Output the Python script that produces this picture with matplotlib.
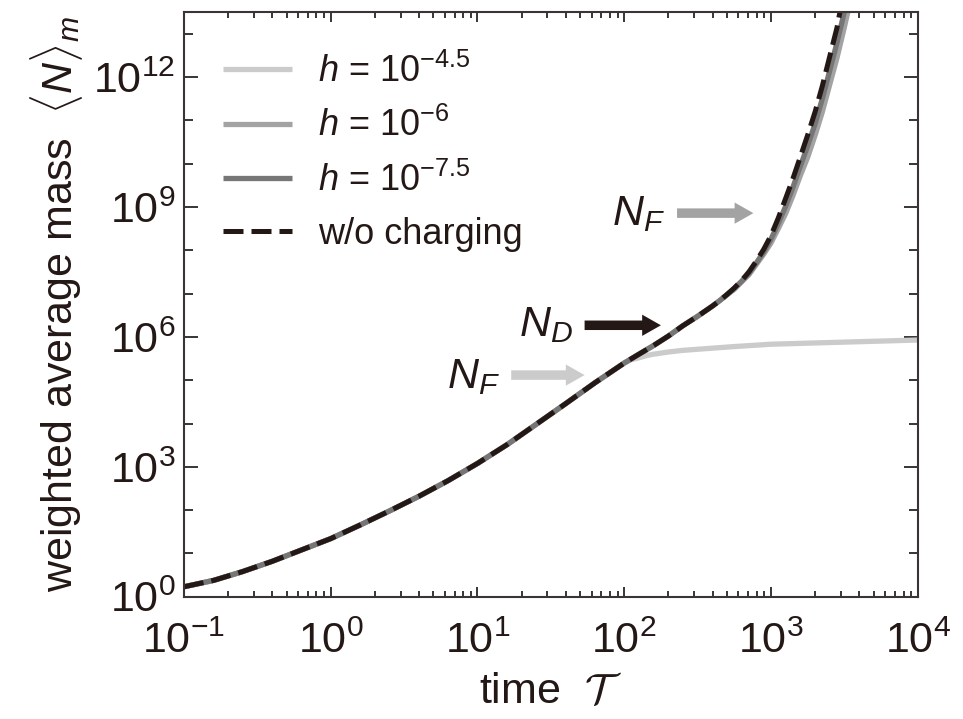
import matplotlib
matplotlib.use("Agg")
import matplotlib.pyplot as plt
from matplotlib.ticker import LogLocator, FixedLocator, NullFormatter, LogFormatterMathtext

family = "Liberation Sans"
plt.rcParams["font.family"] = [family, "DejaVu Sans"]
plt.rcParams["mathtext.fontset"] = "custom"
plt.rcParams["mathtext.rm"] = family
plt.rcParams["mathtext.it"] = family + ":italic"
plt.rcParams["mathtext.cal"] = "cmsy10"

# ---- data ----
# early part, identical for every run
t_common = [0.1, 0.16, 0.25, 0.4, 0.63, 1, 1.6, 2.5, 4, 6.3, 10, 16, 25, 40,
            63, 100]
n_common = [1.7, 2.4, 3.8, 6.6, 12, 22, 46, 95, 210, 480, 1.2e3, 3.3e3,
            9.5e3, 2.9e4, 8.7e4, 2.5e5]

# later times (t > 100)
t_late = [126, 158, 200, 250, 316, 400, 447, 500, 562, 630, 708, 790, 891,
          1000, 1122, 1260, 1413, 1580, 1778, 2000, 2239, 2500, 2818]

# without charging (dashed)
t_dry = t_late + [2950]
n_dry = [4e5, 6.3e5, 1.05e6, 1.8e6, 3e6, 5.2e6, 6.9e6, 9.5e6, 1.35e7, 2e7,
         3.2e7, 5.5e7, 1.05e8, 2.2e8, 5.6e8, 1.6e9, 4.6e9, 1.4e10, 4.6e10,
         1.6e11, 6.3e11, 2.8e12, 1.4e13, 3.2e13]

# h = 10^-4.5
t_h45 = [112, 126, 141, 158, 200, 250, 316, 560, 1000, 3160, 10000]
n_h45 = [3.0e5, 3.3e5, 3.7e5, 4.0e5, 4.5e5, 4.9e5, 5.2e5, 6.0e5, 6.8e5,
         7.6e5, 8.5e5]

# h = 10^-6
t_h6 = t_late + [3160, 3390]
n_h6 = [4e5, 6.3e5, 1.05e6, 1.8e6, 3e6, 5.2e6, 6.9e6, 9.3e6, 1.26e7, 1.86e7,
        2.75e7, 4.6e7, 8.1e7, 1.48e8, 3.2e8, 7.1e8, 1.86e9, 5.2e9, 1.41e10,
        4.6e10, 1.58e11, 6.3e11, 2.8e12, 1.41e13, 4e13]

# h = 10^-7.5
t_h75 = t_late + [3160, 3240]
n_h75 = [4e5, 6.3e5, 1.05e6, 1.8e6, 3e6, 5.2e6, 6.9e6, 9.4e6, 1.32e7, 1.93e7,
         2.95e7, 5e7, 9.1e7, 1.82e8, 4.2e8, 1.05e9, 2.9e9, 8.5e9, 2.6e10,
         8.5e10, 3.2e11, 1.32e12, 6.3e12, 3.2e13, 4.5e13]

labels = [r"$h$ = 10$^{-4.5}$", r"$h$ = 10$^{-6}$", r"$h$ = 10$^{-7.5}$", "w/o charging"]
colors = ["#cbcbcb", "#a3a3a3", "#767676", "#231815"]
ink = "#3a3435"
txt = "#231815"

fig = plt.figure(figsize=(9.63, 7.19), dpi=100)
ax = fig.add_axes([0.191, 0.170, 0.762, 0.813])

series = [(t_h45, n_h45), (t_h6, n_h6), (t_h75, n_h75), (t_dry, n_dry)]
for i, (t, n) in enumerate(series):
    tt = t_common + t
    nn = n_common + n
    if i < 3:
        ax.plot(tt, nn, color=colors[i], lw=3.8, label=labels[i],
                solid_capstyle="butt", solid_joinstyle="round")
    else:
        ax.plot(tt, nn, color=colors[i], lw=3.6, ls=(0, (4.0, 1.6)),
                label=labels[i], dash_capstyle="butt", dash_joinstyle="round")

ax.set_xscale("log")
ax.set_yscale("log")
ax.set_xlim(1e-1, 1e4)
ax.set_ylim(1e0, 10 ** 13.5)

# ticks
ax.xaxis.set_major_locator(LogLocator(base=10, numticks=10))
ax.xaxis.set_minor_locator(LogLocator(base=10, subs=range(2, 10), numticks=20))
ax.xaxis.set_minor_formatter(NullFormatter())
ax.xaxis.set_major_formatter(LogFormatterMathtext())
ax.yaxis.set_major_locator(FixedLocator([1e0, 1e3, 1e6, 1e9, 1e12]))
ax.yaxis.set_minor_locator(FixedLocator([1e1, 1e2, 1e4, 1e5, 1e7, 1e8, 1e10, 1e11, 1e13]))
ax.yaxis.set_minor_formatter(NullFormatter())
ax.yaxis.set_major_formatter(LogFormatterMathtext())

ax.tick_params(which="both", direction="in", top=True, right=True,
               color=ink, width=1.4, labelsize=31, labelcolor=txt)
ax.tick_params(axis="x", which="major", length=7, pad=18)
ax.tick_params(axis="x", which="minor", length=4.5)
ax.tick_params(axis="y", which="major", length=10, pad=6)
ax.tick_params(axis="y", which="minor", length=6.5)
for s in ax.spines.values():
    s.set_color(ink)
    s.set_linewidth(1.5)

ax.set_xlabel(r"time  $\mathcal{T}$", fontsize=31, color=txt, va="center")
ax.xaxis.set_label_coords(0.5, -0.163)
ax.set_ylabel(r"weighted average mass  $\langle N\rangle_m$", fontsize=31,
              color=txt, labelpad=6)

leg = ax.legend(loc="upper left", frameon=False, fontsize=26, handlelength=1.9,
                handletextpad=0.72, labelspacing=0.5, borderaxespad=0.3,
                bbox_to_anchor=(0.019, 0.972))
for t in leg.get_texts():
    t.set_color(txt)

# annotations
arrow_kw = dict(arrowstyle="simple,head_width=0.85,head_length=0.75,tail_width=0.38",
                mutation_scale=18, shrinkA=0, shrinkB=0, lw=0)
ax.annotate("", xy=(10 ** 1.73, 10 ** 5.12), xytext=(10 ** 1.23, 10 ** 5.12),
            arrowprops=dict(color=colors[0], **arrow_kw))
ax.annotate("", xy=(10 ** 2.25, 10 ** 6.27), xytext=(10 ** 1.73, 10 ** 6.27),
            arrowprops=dict(color=colors[3], **arrow_kw))
ax.annotate("", xy=(10 ** 2.88, 10 ** 8.86), xytext=(10 ** 2.36, 10 ** 8.86),
            arrowprops=dict(color=colors[1], **arrow_kw))
ax.text(10 ** 1.15, 10 ** 5.08, r"$N_F$", fontsize=31, ha="right", va="center", color=txt)
ax.text(10 ** 1.65, 10 ** 6.27, r"$N_D$", fontsize=31, ha="right", va="center", color=txt)
ax.text(10 ** 2.28, 10 ** 8.84, r"$N_F$", fontsize=31, ha="right", va="center", color=txt)

fig.savefig("out.png", dpi=100)
